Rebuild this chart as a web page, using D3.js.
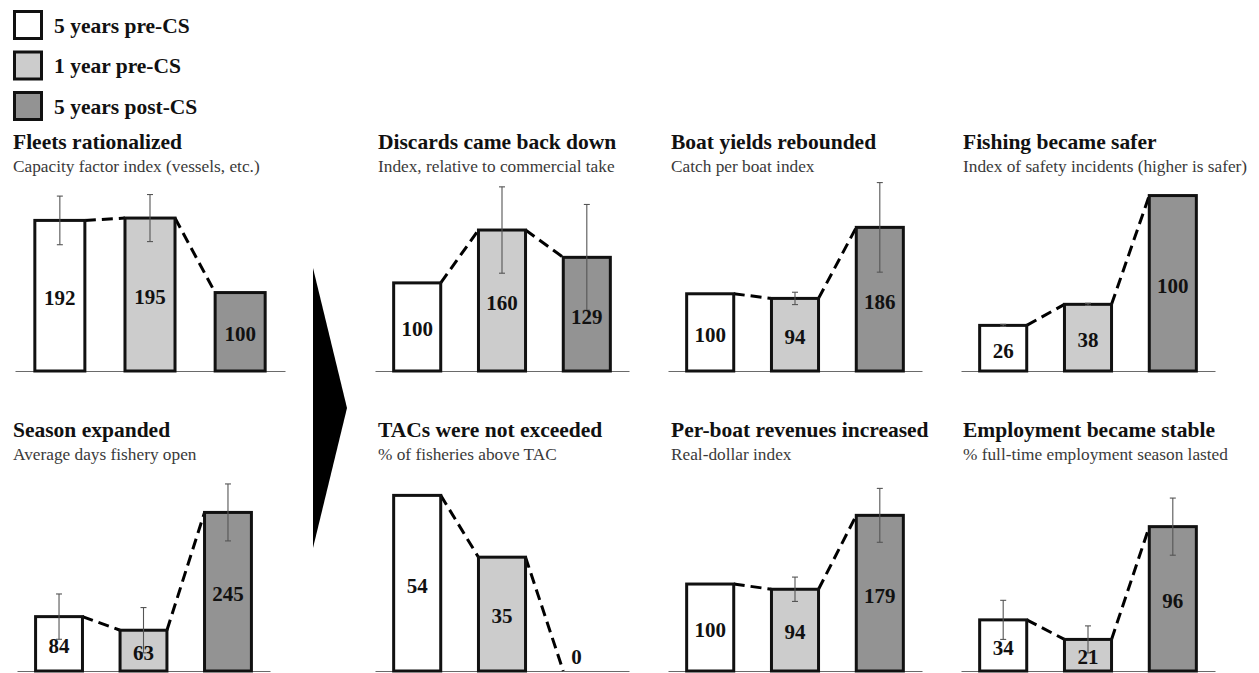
<!DOCTYPE html>
<html>
<head>
<meta charset="utf-8">
<script src="https://cdn.jsdelivr.net/npm/d3@7"></script>
<style>
  html, body { margin: 0; padding: 0; background: #fff; }
  svg { display: block; font-family: "Liberation Serif", "Times New Roman", serif; }
</style>
</head>
<body>
<svg id="chart" width="1259" height="673"></svg>
<script>
// ---------------- DATA ----------------
const categories = ["5 years pre-CS", "1 year pre-CS", "5 years post-CS"];

const panelTitles = [
  "Fleets rationalized", "Discards came back down", "Boat yields rebounded", "Fishing became safer",
  "Season expanded", "TACs were not exceeded", "Per-boat revenues increased", "Employment became stable"
];
const panelSubtitles = [
  "Capacity factor index (vessels, etc.)", "Index, relative to commercial take",
  "Catch per boat index", "Index of safety incidents (higher is safer)",
  "Average days fishery open", "% of fisheries above TAC",
  "Real-dollar index", "% full-time employment season lasted"
];

const fleetsValues     = [192, 195, 100];
const discardsValues   = [100, 160, 129];
const yieldsValues     = [100, 94, 186];
const safetyValues     = [26, 38, 100];
const seasonValues     = [84, 63, 245];
const tacValues        = [54, 35, 0];
const revenueValues    = [100, 94, 179];
const employmentValues = [34, 21, 96];

// +/- error (null = no error bar)
const fleetsErrors     = [31, 30, null];
const discardsErrors   = [null, 49, 60];
const yieldsErrors     = [null, 8, 58];
const safetyErrors     = [0.6, 0.6, null];
const seasonErrors     = [35, 35, 44];
const tacErrors        = [null, null, null];
const revenueErrors    = [null, 14, 31];
const employmentErrors = [13, 9, 19];

// y-scale domain maxima (per panel)
const yDomainMax = [255, 227, 259, 114, 309, 61.5, 230, 133];

// ---------------- LAYOUT ----------------
const panelValues = [fleetsValues, discardsValues, yieldsValues, safetyValues,
                     seasonValues, tacValues, revenueValues, employmentValues];
const panelErrors = [fleetsErrors, discardsErrors, yieldsErrors, safetyErrors,
                     seasonErrors, tacErrors, revenueErrors, employmentErrors];

const layout = [
  {ax0: 15,  ax1: 285,  tx: 13,  row: 0},
  {ax0: 375, ax1: 629,  tx: 378, row: 0},
  {ax0: 668, ax1: 922,  tx: 671, row: 0},
  {ax0: 961, ax1: 1215, tx: 963, row: 0},
  {ax0: 17,  ax1: 270,  tx: 13,  row: 1},
  {ax0: 375, ax1: 629,  tx: 378, row: 1},
  {ax0: 668, ax1: 922,  tx: 671, row: 1},
  {ax0: 961, ax1: 1215, tx: 963, row: 1}
];
const rows = [
  {titleY: 149, subY: 172, base: 371},
  {titleY: 437, subY: 460, base: 671}
];
const plotH = 200;
const fills = ["#ffffff", "#cccccc", "#939393"];

const svg = d3.select("#chart");

// legend
const legend = svg.append("g");
categories.forEach((c, i) => {
  const g = legend.append("g").attr("transform", `translate(0, ${i * 40.5})`);
  g.append("rect").attr("x", 14.5).attr("y", 11.5).attr("width", 27).attr("height", 27)
    .attr("fill", fills[i]).attr("stroke", "#111").attr("stroke-width", 3);
  g.append("text").attr("x", 54).attr("y", 32.5)
    .attr("font-size", 21.5).attr("font-weight", "bold").attr("fill", "#111").text(c);
});

// arrow
svg.append("path")
  .attr("d", "M313,268 L347,408 L313,548 Z")
  .attr("fill", "#000");

// panels
panelValues.forEach((vals, p) => {
  const L = layout[p];
  const R = rows[L.row];
  const errs = panelErrors[p];
  const g = svg.append("g");

  g.append("text").attr("x", L.tx).attr("y", R.titleY)
    .attr("font-size", 21.5).attr("font-weight", "bold").attr("fill", "#111")
    .text(panelTitles[p]);
  g.append("text").attr("x", L.tx).attr("y", R.subY)
    .attr("font-size", 17.3).attr("fill", "#3a3a3a")
    .text(panelSubtitles[p]);

  const x = d3.scaleBand().domain(categories).range([L.ax0, L.ax1])
    .paddingInner(0.445).paddingOuter(0.22);
  const y = d3.scaleLinear().domain([0, yDomainMax[p]]).range([R.base, R.base - plotH]);

  // baseline axis (no ticks)
  const axis = d3.axisBottom(x).tickSize(0).tickFormat("");
  const ag = g.append("g").attr("transform", `translate(0, ${R.base})`).call(axis);
  ag.select(".domain").attr("stroke", "#6a6a6a").attr("stroke-width", 1.2);

  const data = vals.map((v, i) => ({c: categories[i], v, e: errs[i], i}));

  // dashed connectors
  for (let i = 0; i < data.length - 1; i++) {
    const a = data[i], b = data[i + 1];
    g.append("line")
      .attr("x1", x(a.c) + x.bandwidth()).attr("y1", y(a.v))
      .attr("x2", x(b.c)).attr("y2", y(b.v))
      .attr("stroke", "#000").attr("stroke-width", 3)
      .attr("stroke-dasharray", "11,6");
  }

  // bars
  g.selectAll("rect.bar").data(data.filter(d => d.v > 0)).enter().append("rect")
    .attr("class", "bar")
    .attr("x", d => x(d.c)).attr("width", x.bandwidth())
    .attr("y", d => y(d.v)).attr("height", d => y(0) - y(d.v))
    .attr("fill", d => fills[d.i]).attr("stroke", "#111").attr("stroke-width", 3);

  // error bars
  const eg = g.append("g").attr("stroke", "#555").attr("stroke-width", 1.1);
  data.filter(d => d.e != null).forEach(d => {
    const cx = x(d.c) + x.bandwidth() / 2;
    const y1 = y(d.v + d.e), y2 = y(d.v - d.e);
    eg.append("line").attr("x1", cx).attr("x2", cx).attr("y1", y1).attr("y2", y2);
    eg.append("line").attr("x1", cx - 3).attr("x2", cx + 3).attr("y1", y1).attr("y2", y1);
    eg.append("line").attr("x1", cx - 3).attr("x2", cx + 3).attr("y1", y2).attr("y2", y2);
  });

  // value labels
  g.selectAll("text.val").data(data).enter().append("text")
    .attr("class", "val")
    .attr("x", d => x(d.c) + (d.v > 0 ? x.bandwidth() / 2 : x.bandwidth() * 0.28))
    .attr("y", d => Math.min((y(d.v) + y(0)) / 2 + 2, y(0) - 14))
    .attr("dy", "0.35em")
    .attr("text-anchor", "middle")
    .attr("font-size", 21).attr("font-weight", "bold").attr("fill", "#111")
    .text(d => d.v);
});
</script>
</body>
</html>
